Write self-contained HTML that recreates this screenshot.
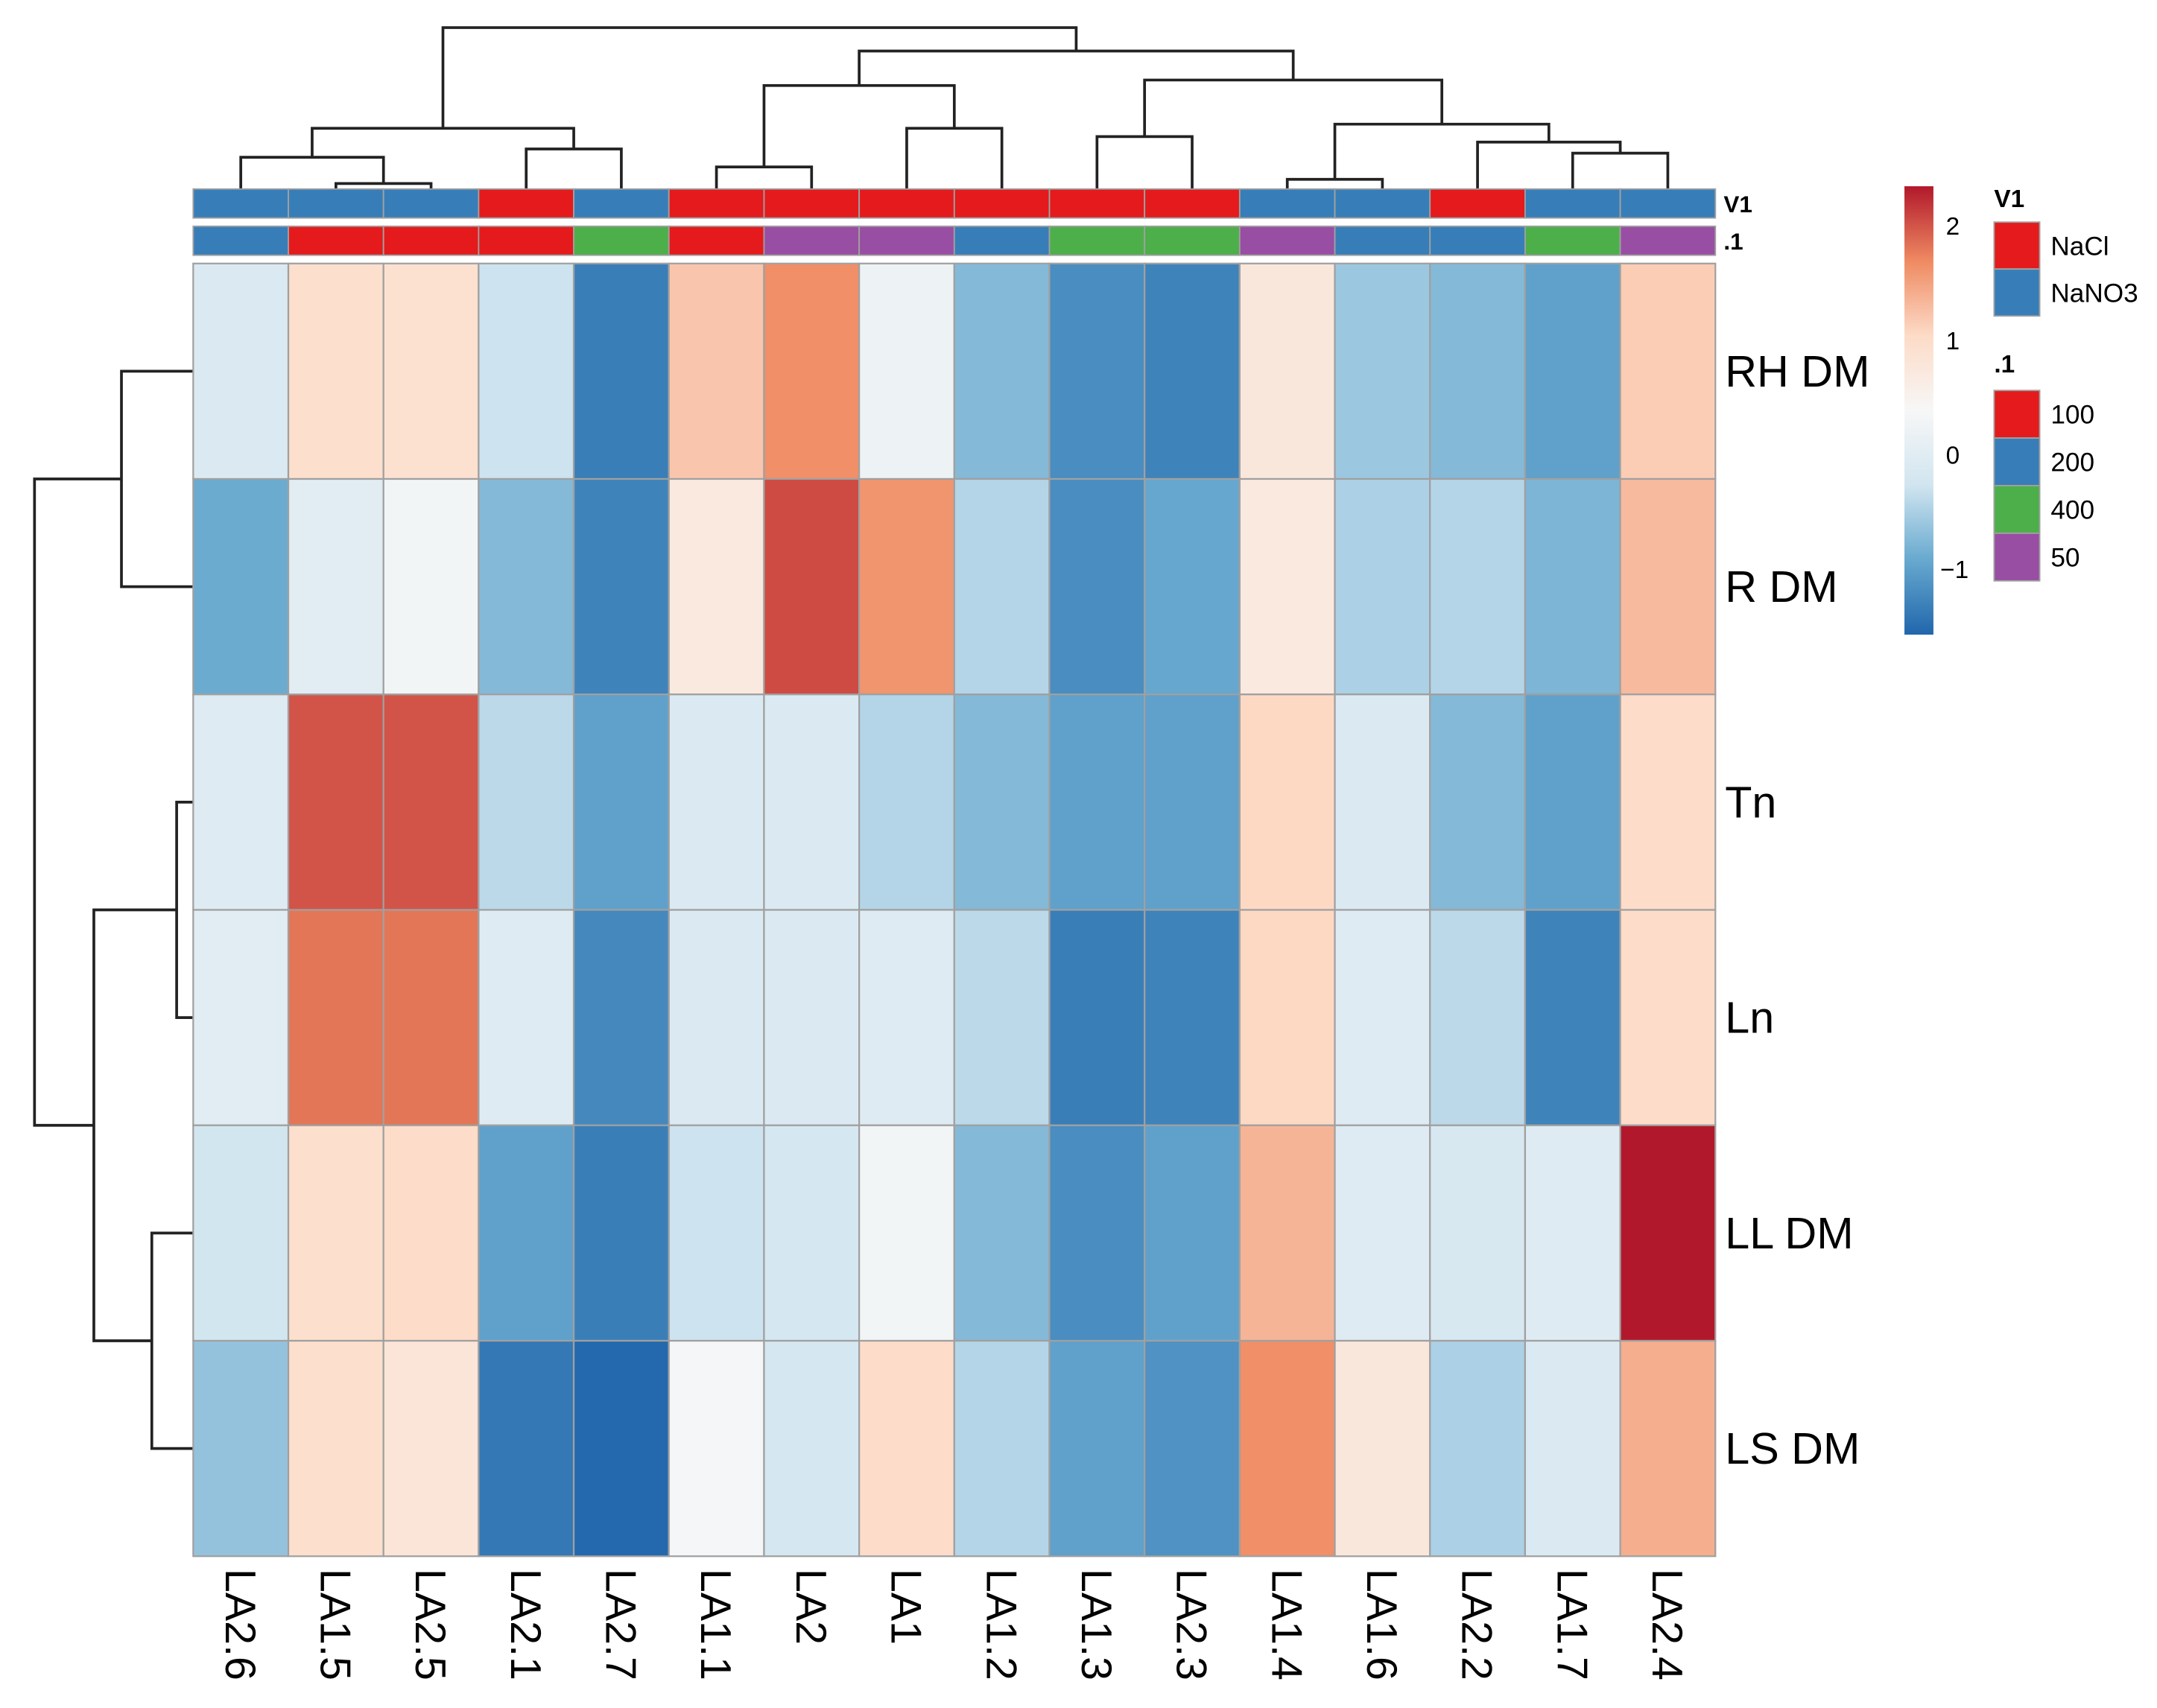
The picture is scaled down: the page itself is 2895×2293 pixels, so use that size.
<!DOCTYPE html>
<html><head><meta charset="utf-8"><style>
html,body{margin:0;padding:0;background:#fff;}
svg{display:block;font-family:"Liberation Sans",Arial,sans-serif;}
</style></head><body>
<svg id="chart" width="2895" height="2293" viewBox="0 0 1563 1238" xmlns="http://www.w3.org/2000/svg">
<rect width="1563" height="1238" fill="#fff"/>
<g id="dendro-top"></g>
<g id="dendro-left"></g>
<g id="annos"></g>
<g id="cells"></g>
<g id="rowlabels"></g>
<g id="collabels"></g>
<g id="colorbar"></g>
<g id="legend"></g>
</svg>
<script>
const columns = ["LA2.6","LA1.5","LA2.5","LA2.1","LA2.7","LA1.1","LA2","LA1","LA1.2","LA1.3","LA2.3","LA1.4","LA1.6","LA2.2","LA1.7","LA2.4"];
const rows = ["RH DM","R DM","Tn","Ln","LL DM","LS DM"];
const valRH = [-0.1,0.95,0.9,-0.3,-1.35,1.2,1.65,0.2,-0.75,-1.2,-1.3,0.75,-0.6,-0.75,-1.0,1.15];
const valR  = [-0.9,0.0,0.3,-0.75,-1.3,0.7,2.05,1.6,-0.45,-1.2,-0.95,0.7,-0.5,-0.45,-0.8,1.3];
const valTn = [-0.05,2.0,2.0,-0.4,-1.0,-0.1,-0.1,-0.45,-0.75,-1.0,-1.0,1.05,-0.1,-0.75,-1.0,1.0];
const valLn = [0.0,1.8,1.8,-0.05,-1.25,-0.1,-0.1,-0.05,-0.4,-1.35,-1.3,1.05,-0.05,-0.4,-1.3,1.0];
const valLL = [-0.25,0.95,1.0,-1.0,-1.35,-0.3,-0.2,0.3,-0.75,-1.2,-1.0,1.35,-0.05,-0.15,-0.05,2.34];
const valLS = [-0.65,0.95,0.8,-1.4,-1.55,0.35,-0.2,1.0,-0.45,-1.0,-1.15,1.65,0.75,-0.5,-0.1,1.4];
const values = [valRH,valR,valTn,valLn,valLL,valLS];
const annoV1 = ["NaNO3","NaNO3","NaNO3","NaCl","NaNO3","NaCl","NaCl","NaCl","NaCl","NaCl","NaCl","NaNO3","NaNO3","NaCl","NaNO3","NaNO3"];
const annoDose = ["200","100","100","100","400","100","50","50","200","400","400","50","200","200","400","50"];
const v1Levels = ["NaCl","NaNO3"];
const doseLevels = ["100","200","400","50"];
const ticks = [2,1,0,-1];
const colMergeA = [[1],[0],[3],[0,1,2],[5],[7],[5,6],[9],[11],[14],[13],[11,12],[9,10],[5,6,7,8],[0,1,2,3,4]];
const colMergeB = [[2],[1,2],[4],[3,4],[6],[8],[7,8],[10],[12],[15],[14,15],[13,14,15],[11,12,13,14,15],[9,10,11,12,13,14,15],[5,6,7,8,9,10,11,12,13,14,15]];
const colMergeH = [4,23,29,44,16,44,75,38,7,26,34,47,79,100,117];
const rowMergeA = [[0],[2],[4],[2,3],[0,1]];
const rowMergeB = [[1],[3],[5],[4,5],[2,3,4,5]];
const rowMergeH = [52,12,30,72,115];

const NS="http://www.w3.org/2000/svg";
function mk(tag,attrs,parent){const e=document.createElementNS(NS,tag);for(const k in attrs)e.setAttribute(k,attrs[k]);parent.appendChild(e);return e;}
const X0=140,X1=1243,Y0=191,Y1=1128;
const cw=(X1-X0)/columns.length, rh=(Y1-Y0)/rows.length;
const xCol=i=>X0+cw*i, xMid=i=>X0+cw*(i+0.5);
const yRow=j=>Y0+rh*j, yMid=j=>Y0+rh*(j+0.5);
const VMIN=-1.58,VMAX=2.34;
const stops=["#2166AC","#67A9CF","#D1E5F0","#F7F7F7","#FDDBC7","#EF8A62","#B2182B"];
function hex(h){return [1,3,5].map(i=>parseInt(h.substr(i,2),16));}
function color(v){let t=(v-VMIN)/(VMAX-VMIN);t=Math.max(0,Math.min(1,t));const p=t*(stops.length-1);const i=Math.min(Math.floor(p),stops.length-2);const f=p-i;const a=hex(stops[i]),b=hex(stops[i+1]);return "rgb("+a.map((c,k)=>Math.round(c+(b[k]-c)*f)).join(",")+")";}
const v1Col={"NaCl":"#E41A1C","NaNO3":"#377EB8"};
const doseCol={"100":"#E41A1C","200":"#377EB8","400":"#4DAF4A","50":"#984EA3"};
function same(a,b){if(a.length!==b.length)return false;const x=[...a].sort((p,q)=>p-q),y=[...b].sort((p,q)=>p-q);return x.every((v,i)=>v===y[i]);}

const gC=document.getElementById('cells');
rows.forEach((r,j)=>columns.forEach((c,i)=>{
  const e=mk('rect',{x:xCol(i),y:yRow(j),width:cw,height:rh,fill:color(values[j][i]),stroke:"#a0a0a0","stroke-width":1.2},gC);
  
  
}));
const gA=document.getElementById('annos');
columns.forEach((c,i)=>{
  const a=mk('rect',{x:xCol(i),y:137,width:cw,height:21,fill:v1Col[annoV1[i]],stroke:"#a0a0a0","stroke-width":1},gA);
  
  
  const b=mk('rect',{x:xCol(i),y:164,width:cw,height:21,fill:doseCol[annoDose[i]],stroke:"#a0a0a0","stroke-width":1},gA);
  
  
});
let t=mk('text',{x:1249,y:154,"font-size":17,"font-weight":"bold"},gA);t.textContent="V1";

t=mk('text',{x:1249,y:181,"font-size":17,"font-weight":"bold"},gA);t.textContent=".1";

const gR=document.getElementById('rowlabels');
rows.forEach((r,j)=>{const e=mk('text',{x:1250,y:yMid(j)+11,"font-size":32},gR);e.textContent=r;
  });
const gL=document.getElementById('collabels');
columns.forEach((c,i)=>{const e=mk('text',{x:0,y:0,"font-size":31,transform:`translate(${xMid(i)-11},1137) rotate(90)`},gL);e.textContent=c;
  });
const gT=document.getElementById('dendro-top');
const BASE_T=137;
function clusterTop(m){
  if(m.length===1)return {x:xMid(m[0]),h:0};
  for(let k=0;k<colMergeH.length;k++){if(same(colMergeA[k].concat(colMergeB[k]),m)){
      const A=clusterTop(colMergeA[k]),B=clusterTop(colMergeB[k]);return {x:(A.x+B.x)/2,h:colMergeH[k]};}}
  return {x:xMid(m[0]),h:0};
}
colMergeH.forEach((h,k)=>{const A=clusterTop(colMergeA[k]),B=clusterTop(colMergeB[k]);const y=BASE_T-h;
  const p=mk('path',{d:`M${A.x},${BASE_T-A.h}V${y}H${B.x}V${BASE_T-B.h}`,fill:"none",stroke:"#222","stroke-width":2},gT);
  });
const gD=document.getElementById('dendro-left');
const BASE_L=140;
function clusterLeft(m){
  if(m.length===1)return {y:yMid(m[0]),h:0};
  for(let k=0;k<rowMergeH.length;k++){if(same(rowMergeA[k].concat(rowMergeB[k]),m)){
      const A=clusterLeft(rowMergeA[k]),B=clusterLeft(rowMergeB[k]);return {y:(A.y+B.y)/2,h:rowMergeH[k]};}}
  return {y:yMid(m[0]),h:0};
}
rowMergeH.forEach((h,k)=>{const A=clusterLeft(rowMergeA[k]),B=clusterLeft(rowMergeB[k]);const x=BASE_L-h;
  const p=mk('path',{d:`M${BASE_L-A.h},${A.y}H${x}V${B.y}H${BASE_L-B.h}`,fill:"none",stroke:"#222","stroke-width":2},gD);
  });
const gB=document.getElementById('colorbar');
const CB0=135,CB1=460;const yv=v=>CB1-(v-VMIN)/(VMAX-VMIN)*(CB1-CB0);
const defs=mk('defs',{},gB);const lg=mk('linearGradient',{id:'cg',x1:0,y1:1,x2:0,y2:0},defs);
stops.forEach((s,i)=>mk('stop',{offset:i/(stops.length-1),"stop-color":s},lg));
const cb=mk('rect',{x:1380,y:CB0,width:21,height:CB1-CB0,fill:"url(#cg)"},gB);

ticks.forEach(v=>{const e=mk('text',{x:v<0?1406:1410,y:yv(v)+7,"font-size":18},gB);e.textContent=v<0?"\u2212"+(-v):String(v);
  });
const gG=document.getElementById('legend');
t=mk('text',{x:1445,y:150,"font-size":18,"font-weight":"bold"},gG);t.textContent="V1";

v1Levels.forEach((l,i)=>{const y=161+i*34;const r=mk('rect',{x:1445,y:y,width:33,height:34,fill:v1Col[l],stroke:"#a0a0a0","stroke-width":1},gG);
  
  const e=mk('text',{x:1486,y:y+24,"font-size":19},gG);e.textContent=l;});
t=mk('text',{x:1445,y:270,"font-size":18,"font-weight":"bold"},gG);t.textContent=".1";

doseLevels.forEach((l,i)=>{const y=283+i*34.5;const r=mk('rect',{x:1445,y:y,width:33,height:34.5,fill:doseCol[l],stroke:"#a0a0a0","stroke-width":1},gG);
  
  const e=mk('text',{x:1486,y:y+24,"font-size":19},gG);e.textContent=l;});
</script>
</body></html>
